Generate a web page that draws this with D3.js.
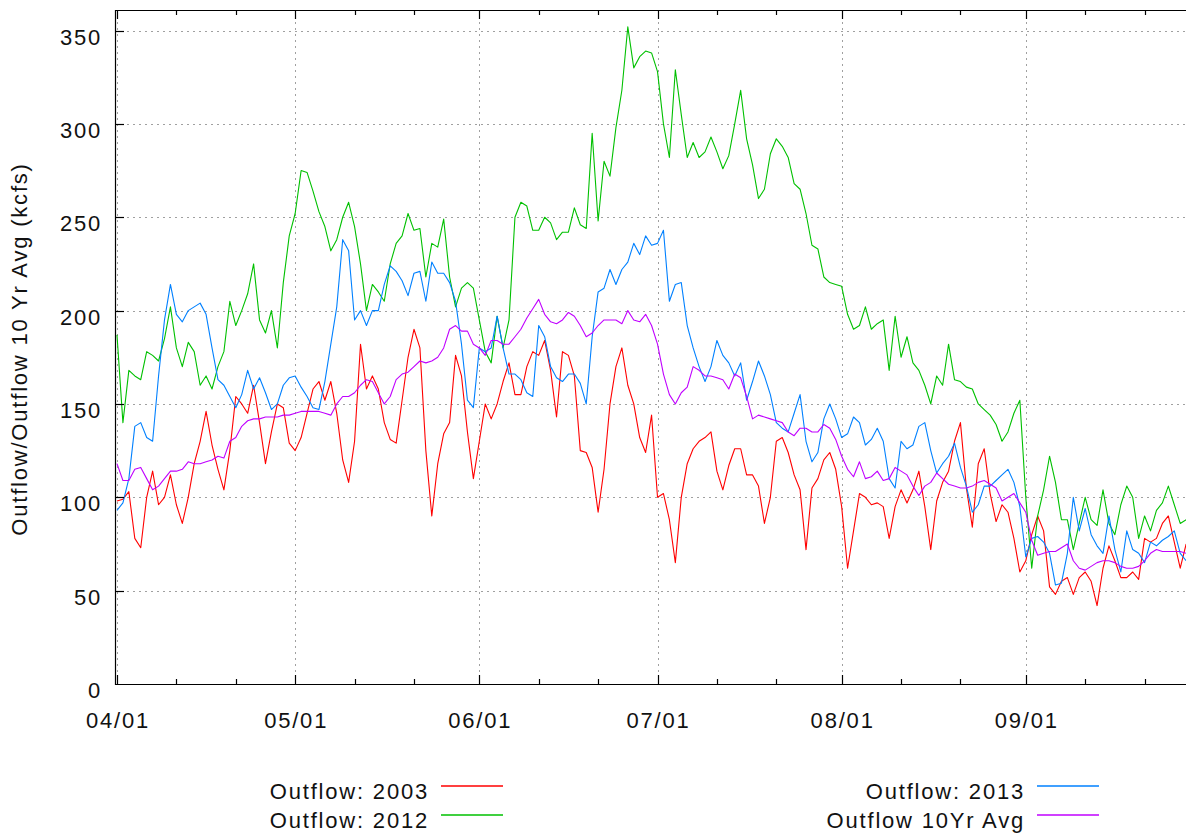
<!DOCTYPE html>
<html lang="en">

<head>
    <title>Outflow vs 10 Yr Avg</title>
    <meta charset="UTF-8">
    <script src="https://d3js.org/d3.v7.min.js"></script>
    <style>
        body { margin: 0; background: #fff; }
        svg { display: block; }
        text {
            font-family: "Liberation Sans", Arial, sans-serif;
            font-size: 22px;
            letter-spacing: 1.8px;
            fill: #111;
        }
    </style>
</head>

<body>
    <svg width="1186" height="833"></svg>

    <script>
        // daily values (kcfs), first value is 04/01
        const firstDay = new Date(2013, 3, 1);

        const outflow2003 = [
            98, 99, 103, 78, 73, 100, 114, 96, 100, 112,
            96, 86, 100, 118, 130, 146, 128, 115, 104, 125,
            154, 150, 145, 160, 140, 118, 135, 150, 148, 129,
            125, 132, 145, 158, 162, 152, 162, 145, 120, 108,
            130, 182, 158, 165, 158, 140, 131, 129, 152, 175,
            190, 180, 125, 90, 118, 134, 140, 176, 165, 135,
            110, 130, 150, 142, 150, 162, 172, 155, 155, 170,
            178, 176, 184, 168, 143, 178, 176, 165, 125, 124,
            116, 92, 115, 150, 170, 180, 160, 150, 132, 124,
            144, 100, 102, 88, 65, 100, 118, 126, 130, 132,
            135, 114, 104, 117, 126, 126, 112, 112, 106, 86,
            100, 130, 132, 124, 112, 104, 72, 105, 110, 120,
            124, 115, 95, 62, 82, 102, 100, 96, 97, 95,
            78, 95, 104, 97, 104, 114, 95, 72, 98, 108,
            114, 130, 140, 105, 84, 118, 126, 102, 87, 96,
            92, 78, 60, 66, 80, 90, 82, 52, 48, 55,
            57, 48, 57, 60, 55, 42, 62, 74, 66, 57,
            57, 60, 56, 78, 76, 78, 86, 90, 76, 62, 75
        ];

        const outflow2012 = [
            187, 140, 168, 165, 163, 178, 176, 173, 185, 202,
            180, 170, 183, 178, 160, 165, 158, 170, 178, 205,
            192, 200, 209, 225, 195, 188, 200, 180, 215, 240,
            252, 275, 274, 264, 253, 245, 232, 238, 250, 258,
            245, 225, 200, 214, 210, 205, 225, 236, 240, 252,
            243, 244, 218, 236, 234, 249, 218, 202, 212, 215,
            212, 195, 178, 172, 197, 180, 195, 250, 258, 256,
            243, 243, 250, 247, 238, 242, 242, 255, 246, 244,
            295, 248, 280, 272, 298, 318, 352, 330, 336, 339,
            338, 328, 300, 282, 329, 305, 282, 290, 282, 285,
            293, 285, 276, 283, 300, 318, 292, 278, 260, 265,
            284, 292, 288, 282, 268, 265, 252, 235, 233, 218,
            215, 214, 213, 198, 190, 192, 202, 190, 193, 195,
            168, 197, 175, 186, 172, 168, 160, 150, 165, 160,
            182, 163, 162, 159, 158, 150, 147, 144, 139, 130,
            135, 145, 152, 100, 62, 90, 104, 122, 108, 88,
            88, 72, 86, 100, 88, 85, 104, 86, 80, 96,
            106, 100, 78, 90, 82, 93, 97, 106, 96, 86, 88
        ];

        const outflow2013 = [
            93, 97, 110, 138, 140, 132, 130, 165, 195, 214,
            198, 194, 200, 202, 204, 198, 180, 163, 160, 154,
            148, 155, 168, 158, 164, 156, 147, 150, 160, 164,
            165, 159, 154, 148, 147, 162, 182, 202, 238, 232,
            195, 200, 192, 200, 200, 214, 224, 221, 216, 208,
            220, 221, 205, 226, 220, 220, 215, 205, 182, 152,
            148, 180, 178, 180, 197, 180, 166, 166, 163, 156,
            154, 192, 186, 170, 164, 162, 166, 166, 161, 150,
            186, 210, 212, 222, 214, 222, 226, 236, 230, 240,
            235, 236, 243, 205, 214, 215, 192, 180, 170, 162,
            170, 184, 176, 172, 165, 172, 152, 162, 173, 165,
            155, 140, 137, 135, 145, 155, 130, 119, 124, 142,
            150, 142, 132, 134, 143, 140, 128, 131, 137, 130,
            110, 105, 130, 126, 128, 138, 140, 125, 113, 118,
            122, 129, 116, 106, 92, 96, 106, 106, 109, 112,
            115, 108, 95, 68, 78, 79, 76, 70, 53, 54,
            70, 100, 82, 94, 80, 74, 70, 90, 72, 60,
            82, 72, 70, 65, 76, 74, 77, 79, 82, 70, 66
        ];

        const outflowAvg = [
            118, 109, 109, 115, 116, 110, 104, 106, 110, 114,
            114, 115, 119, 118, 118, 119, 120, 122, 121, 130,
            132, 138, 141, 142, 142, 143, 143, 143, 144, 144,
            145, 146, 146, 146, 146, 145, 144, 150, 154, 154,
            156, 160, 163, 162, 156, 150, 154, 163, 166, 167,
            170, 173, 172, 173, 175, 180, 190, 192, 189, 189,
            182, 180, 176, 184, 184, 182, 182, 186, 190, 196,
            201, 206, 198, 194, 193, 195, 199, 197, 192, 186,
            188, 192, 195, 195, 195, 193, 200, 195, 194, 198,
            192, 182, 166, 155, 150, 156, 159, 170, 168, 165,
            165, 164, 163, 158, 166, 164, 154, 142, 144, 143,
            142, 141, 140, 135, 133, 137, 137, 135, 135, 139,
            137, 131, 122, 115, 111, 119, 110, 111, 114, 109,
            110, 116, 114, 112, 106, 101, 106, 108, 113, 110,
            107, 106, 105, 105, 106, 108, 109, 107, 105, 98,
            100, 102, 97, 92, 77, 69, 70, 71, 71, 73,
            75, 66, 62, 61, 63, 65, 66, 66, 65, 63,
            62, 62, 63, 66, 70, 72, 71, 71, 71, 71, 70
        ];

        const seriesNames = ["Outflow: 2003", "Outflow: 2012", "Outflow: 2013", "Outflow 10Yr Avg"];
        const seriesColors = ["#ff0000", "#00c000", "#0080ff", "#c000ff"];
        const seriesValues = [outflow2003, outflow2012, outflow2013, outflowAvg];
        const yTicks = [0, 50, 100, 150, 200, 250, 300, 350];

        const svg = d3.select("svg");
        const plotL = 115, plotR = 1190, plotT = 10, plotB = 684;

        // time scale, 04/01 sits a little right of the left border
        const x = d3.scaleTime()
            .domain([new Date(2013, 2, 31, 16), new Date(2013, 8, 28, 15, 30)])
            .range([plotL, plotR]);
        const y = d3.scaleLinear().domain([0, 361]).range([plotB, plotT]);

        const months = d3.timeMonth.range(firstDay, x.domain()[1]);
        const minors = d3.timeDay.range(firstDay, x.domain()[1])
            .filter(d => d.getDate() === 11 || d.getDate() === 21);
        const px = d => Math.round(x(d)) + 0.5;
        const py = d => Math.round(y(d)) + 0.5;

        // grid
        const grid = svg.append("g")
            .attr("stroke", "#a0a0a0")
            .attr("stroke-dasharray", "2,4")
            .attr("stroke-width", 1);
        grid.selectAll(null).data(yTicks.slice(1)).enter().append("line")
            .attr("x1", plotL).attr("x2", plotR)
            .attr("y1", py).attr("y2", py);
        grid.selectAll(null).data(months).enter().append("line")
            .attr("y1", plotT).attr("y2", plotB)
            .attr("x1", px).attr("x2", px);

        // series lines
        const line = d3.line()
            .x((d, i) => x(d3.timeDay.offset(firstDay, i)))
            .y(d => y(d));

        svg.append("g").selectAll("path")
            .data(seriesValues)
            .enter()
            .append("path")
            .attr("d", d => line(d))
            .attr("fill", "none")
            .attr("stroke", (d, i) => seriesColors[i])
            .attr("stroke-width", 1.1)
            .attr("stroke-linejoin", "round");

        // border and ticks
        const ax = svg.append("g").attr("stroke", "#000").attr("stroke-width", 1.2);
        ax.append("path")
            .attr("fill", "none")
            .attr("d", `M${plotR},${plotT + 0.5}H${plotL + 0.5}V${plotB + 0.5}H${plotR}`);
        ax.selectAll(null).data(yTicks.slice(1)).enter().append("line")
            .attr("x1", plotL).attr("x2", plotL + 9)
            .attr("y1", py).attr("y2", py);
        [[plotB, -1], [plotT, 1]].forEach(([base, dir]) => {
            ax.selectAll(null).data(months).enter().append("line")
                .attr("x1", px).attr("x2", px)
                .attr("y1", base).attr("y2", base + dir * 9);
            ax.selectAll(null).data(minors).enter().append("line")
                .attr("x1", px).attr("x2", px)
                .attr("y1", base).attr("y2", base + dir * 5);
        });

        // tick labels
        svg.append("g").selectAll("text")
            .data(yTicks).enter().append("text")
            .attr("x", 102)
            .attr("y", d => y(d) + 14)
            .attr("text-anchor", "end")
            .text(d => d);

        svg.append("g").selectAll("text")
            .data(months).enter().append("text")
            .attr("x", d => x(d) + 1)
            .attr("y", 728)
            .attr("text-anchor", "middle")
            .text(d3.timeFormat("%m/%d"));

        svg.append("text")
            .attr("transform", "translate(27,349) rotate(-90)")
            .attr("text-anchor", "middle")
            .text("Outflow/Outflow 10 Yr Avg (kcfs)");

        // legend, two columns
        const legendPos = [[429, 799], [429, 828], [1025, 799], [1025, 828]];
        const legend = svg.append("g").selectAll("g")
            .data(seriesNames).enter().append("g")
            .attr("transform", (d, i) => `translate(${legendPos[i][0]},${legendPos[i][1]})`);
        legend.append("text")
            .attr("text-anchor", "end")
            .text(d => d);
        legend.append("line")
            .attr("x1", 12).attr("x2", 74)
            .attr("y1", -13).attr("y2", -13)
            .attr("stroke", (d, i) => seriesColors[i])
            .attr("stroke-width", 1.6);
    </script>

</body>

</html>
